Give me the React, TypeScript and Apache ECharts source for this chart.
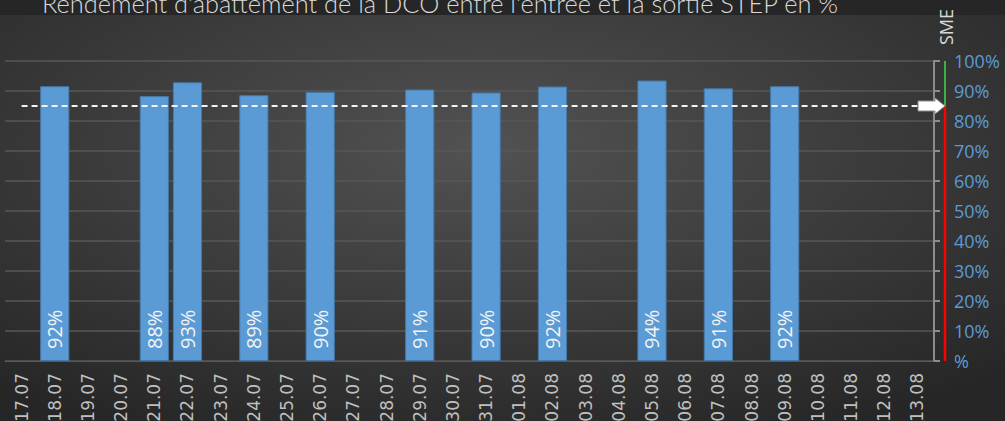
import React, { useEffect, useRef } from "react";
import * as echarts from "echarts";

const categories = [
  "17.07", "18.07", "19.07", "20.07", "21.07", "22.07", "23.07", "24.07", "25.07", "26.07",
  "27.07", "28.07", "29.07", "30.07", "31.07", "01.08", "02.08", "03.08", "04.08", "05.08",
  "06.08", "07.08", "08.08", "09.08", "10.08", "11.08", "12.08", "13.08",
];
const measuredDays = ["18.07", "21.07", "22.07", "24.07", "26.07", "29.07", "31.07", "02.08", "05.08", "07.08", "09.08"];
const measuredValues = [91.6, 88.3, 92.9, 88.6, 89.7, 90.5, 89.5, 91.5, 93.5, 90.9, 91.6];
const thresholdValue = 85;
const yTicks = [0, 10, 20, 30, 40, 50, 60, 70, 80, 90, 100];
const titleText = "Rendement d'abattement de la DCO entre l'entrée et la sortie STEP en %";
const sideLabel = "SME";

export default function App() {
  const ref = useRef<HTMLDivElement>(null);
  useEffect(() => {
    if (!ref.current) return;
    const chart = echarts.init(ref.current, undefined, { renderer: "svg" });
    const barData = categories.map((c) => {
      const i = measuredDays.indexOf(c);
      return i >= 0 ? measuredValues[i] : null;
    });
    const lineData = categories.map(() => thresholdValue);
    chart.setOption({
      animation: false,
      backgroundColor: {
        type: "radial",
        x: 0.48,
        y: 0.35,
        r: 0.75,
        colorStops: [
          { offset: 0, color: "#525252" },
          { offset: 1, color: "#262626" },
        ],
      },
      grid: { left: 5, right: 71, top: 61, bottom: 60, containLabel: false, outerBoundsMode: "none" },
      xAxis: {
        type: "category",
        data: categories,
        axisLine: { show: true, lineStyle: { color: "#595959", width: 1 } },
        axisTick: { show: false },
        axisLabel: {
          rotate: 90,
          color: "#bfbfbf",
          fontSize: 17,
          fontFamily: "DejaVu Sans",
          margin: 12,
          interval: 0,
        },
      },
      yAxis: {
        type: "value",
        position: "right",
        min: yTicks[0],
        max: yTicks[yTicks.length - 1],
        interval: 10,
        axisLine: { show: true, lineStyle: { color: "#8c8c8c", width: 2 } },
        axisTick: { show: true, length: 6, lineStyle: { color: "#8c8c8c", width: 2 } },
        splitLine: { show: true, lineStyle: { color: "#575757", width: 1.5 } },
        axisLabel: {
          color: "#5b9bd5",
          fontSize: 18,
          fontFamily: "Open Sans",
          margin: 20,
          formatter: (v: number) => (v === 0 ? "%" : v + "%"),
        },
      },
      series: [
        {
          type: "bar",
          data: barData,
          barWidth: "88%",
          itemStyle: { color: "#5b9bd5", borderColor: "#4678a8", borderWidth: 1 },
          label: {
            show: true,
            position: "insideBottom",
            rotate: 90,
            align: "left",
            verticalAlign: "middle",
            distance: 12,
            color: "#f2f2f2",
            fontSize: 20,
            fontFamily: "Open Sans",
            formatter: (p: any) => Math.round(p.value) + "%",
          },
          z: 2,
        },
        {
          type: "line",
          data: lineData,
          symbol: "none",
          lineStyle: { color: "#f2f2f2", width: 2, type: [6, 4] },
          z: 3,
        },
      ],
    });

    const y100 = chart.convertToPixel({ yAxisIndex: 0 }, 100) as number;
    const yThr = chart.convertToPixel({ yAxisIndex: 0 }, thresholdValue) as number;
    const y0 = chart.convertToPixel({ yAxisIndex: 0 }, 0) as number;
    const lx = 945;
    chart.setOption({
      graphic: [
        { type: "rect", shape: { x: 0, y: 0, width: 1005, height: 15 }, style: { fill: "#262626" }, z: 0 },
        {
          type: "text",
          x: 440,
          y: 15,
          style: {
            text: titleText,
            fill: "#d9d9d9",
            fontSize: 25.4,
            fontFamily: "Lato",
            fontWeight: 300,
            align: "center",
            verticalAlign: "bottom",
          },
          z: 10,
        },
        {
          type: "text",
          x: 946,
          y: 27,
          rotation: Math.PI / 2,
          style: {
            text: sideLabel,
            fill: "#d9d9d9",
            fontSize: 18,
            fontFamily: "Open Sans",
            align: "center",
            verticalAlign: "middle",
          },
          z: 10,
        },
        {
          type: "line",
          shape: { x1: lx, y1: y100, x2: lx, y2: yThr },
          style: { stroke: "#3cb043", lineWidth: 2 },
          z: 10,
        },
        {
          type: "line",
          shape: { x1: lx, y1: yThr, x2: lx, y2: y0 },
          style: { stroke: "#ff0000", lineWidth: 2.5 },
          z: 10,
        },
        {
          type: "polygon",
          shape: {
            points: [
              [lx - 27, yThr - 5],
              [lx - 10, yThr - 5],
              [lx - 10, yThr - 8],
              [lx, yThr],
              [lx - 10, yThr + 8],
              [lx - 10, yThr + 5],
              [lx - 27, yThr + 5],
            ],
          },
          style: { fill: "#ffffff", stroke: "#8c8c8c", lineWidth: 1 },
          z: 11,
        },
      ],
    });
    return () => chart.dispose();
  }, []);
  return <div ref={ref} style={{ width: 1005, height: 421, position: "absolute", left: 0, top: 0 }} />;
}
